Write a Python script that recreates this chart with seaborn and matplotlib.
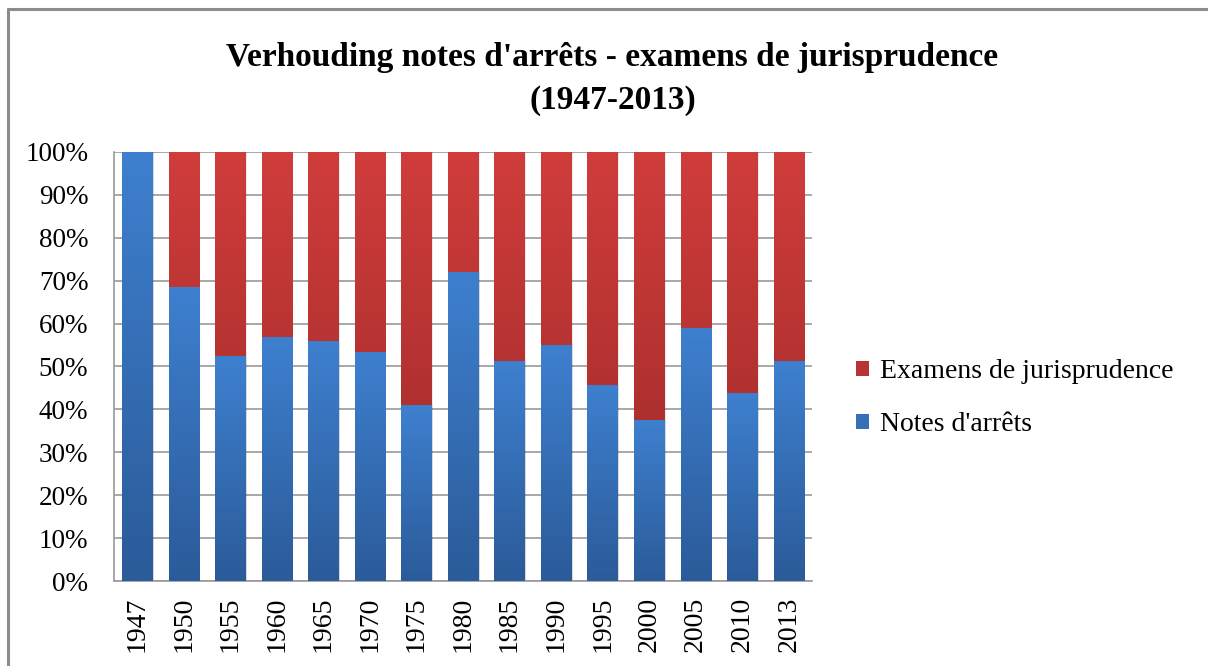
import numpy as np
import pandas as pd
import matplotlib
matplotlib.use('Agg')
import matplotlib.pyplot as plt
import seaborn as sns
from matplotlib.patches import Patch
from matplotlib.lines import Line2D
from matplotlib.ticker import PercentFormatter
from matplotlib.colors import LinearSegmentedColormap

# Data (share in %)
years = ['1947', '1950', '1955', '1960', '1965', '1970', '1975', '1980',
         '1985', '1990', '1995', '2000', '2005', '2010', '2013']
notes_pct = [100, 68.5, 52.4, 56.9, 55.9, 53.4, 41.0, 72.0,
             51.3, 55.0, 45.7, 37.5, 59.0, 43.8, 51.3]
exam_pct = [0, 31.5, 47.6, 43.1, 44.1, 46.6, 59.0, 28.0,
            48.7, 45.0, 54.3, 62.5, 41.0, 56.2, 48.7]

df = pd.DataFrame({'year': years, 'notes': notes_pct, 'exam': exam_pct})
df['total'] = df['notes'] + df['exam']

blue_top, blue_bot = '#3E80CF', '#2B5B99'
red_top, red_bot = '#D03D3B', '#992827'

sns.set_style('white')
plt.rcParams['font.family'] = ['Liberation Serif', 'DejaVu Serif']
plt.rcParams['text.color'] = 'black'

fig = plt.figure(figsize=(12.08, 6.66), dpi=100)
ax = fig.add_axes([0.0944, 0.1276, 0.5778, 0.6442])

# stacked bars: full height red first, blue on top
sns.barplot(data=df, x='year', y='total', color=red_top, width=0.65, ax=ax, zorder=2)
n_red = len(ax.patches)
sns.barplot(data=df, x='year', y='notes', color=blue_top, width=0.65, ax=ax, zorder=3)

# replace flat fills with a vertical gradient per segment
for i, p in enumerate(ax.patches):
    top, bot = (red_top, red_bot) if i < n_red else (blue_top, blue_bot)
    x, y, w, h = p.get_x(), p.get_y(), p.get_width(), p.get_height()
    if h <= 0:
        continue
    cmap = LinearSegmentedColormap.from_list('g', [bot, top])
    grad = np.linspace(0, 1, 256).reshape(-1, 1)
    # light shadow behind the bar
    ax.add_patch(plt.Rectangle((x + 0.03, y), w, h, facecolor='#000000', alpha=0.08,
                               edgecolor='none', zorder=p.get_zorder() - 0.5))
    im = ax.imshow(grad, cmap=cmap, origin='lower', aspect='auto',
                   extent=[x, x + w, y, y + h], zorder=p.get_zorder())
    im.set_clip_path(p)
    p.set_facecolor('none')
    p.set_edgecolor('none')

ax.set_xlim(-0.5, len(years) - 0.5)
ax.set_ylim(0, 100)
ax.set_yticks(np.arange(0, 101, 10))
ax.yaxis.set_major_formatter(PercentFormatter(decimals=0))
ax.grid(axis='y', color='#9A9A9A', linewidth=1.2, zorder=0)
ax.set_axisbelow(True)
ax.set_xlabel('')
ax.set_ylabel('')
ax.tick_params(axis='both', length=0, labelsize=20, colors='black', labelcolor='black')
ax.tick_params(axis='y', pad=18.5, labelsize=19.5)
ax.tick_params(axis='x', rotation=90, pad=11.5)
for s in ['top', 'right']:
    ax.spines[s].set_visible(False)
for s in ['left', 'bottom']:
    ax.spines[s].set_color('#9A9A9A')
    ax.spines[s].set_linewidth(1.2)

fig.suptitle("Verhouding notes d'arrêts - examens de jurisprudence\n(1947-2013)",
             x=0.507, y=0.9375, va='top', fontsize=24, fontweight='bold',
             linespacing=1.5, color='black')

handles = [Patch(facecolor='#B83432', edgecolor='none', label='Examens de jurisprudence'),
           Patch(facecolor='#3570B8', edgecolor='none', label="Notes d'arrêts")]
fig.legend(handles=handles, loc='center left', bbox_to_anchor=(0.688, 0.402),
           frameon=False, fontsize=20, handlelength=0.45, handleheight=0.45,
           handletextpad=0.4, labelspacing=1.0)

# outer chart border (top and left visible)
fig.add_artist(Line2D([0.0066, 1.0], [0.987, 0.987], color='#8C8C8C', linewidth=2.2))
fig.add_artist(Line2D([0.0066, 0.0066], [0.0, 0.987], color='#8C8C8C', linewidth=2.2))

fig.savefig('out.png', dpi=100)
